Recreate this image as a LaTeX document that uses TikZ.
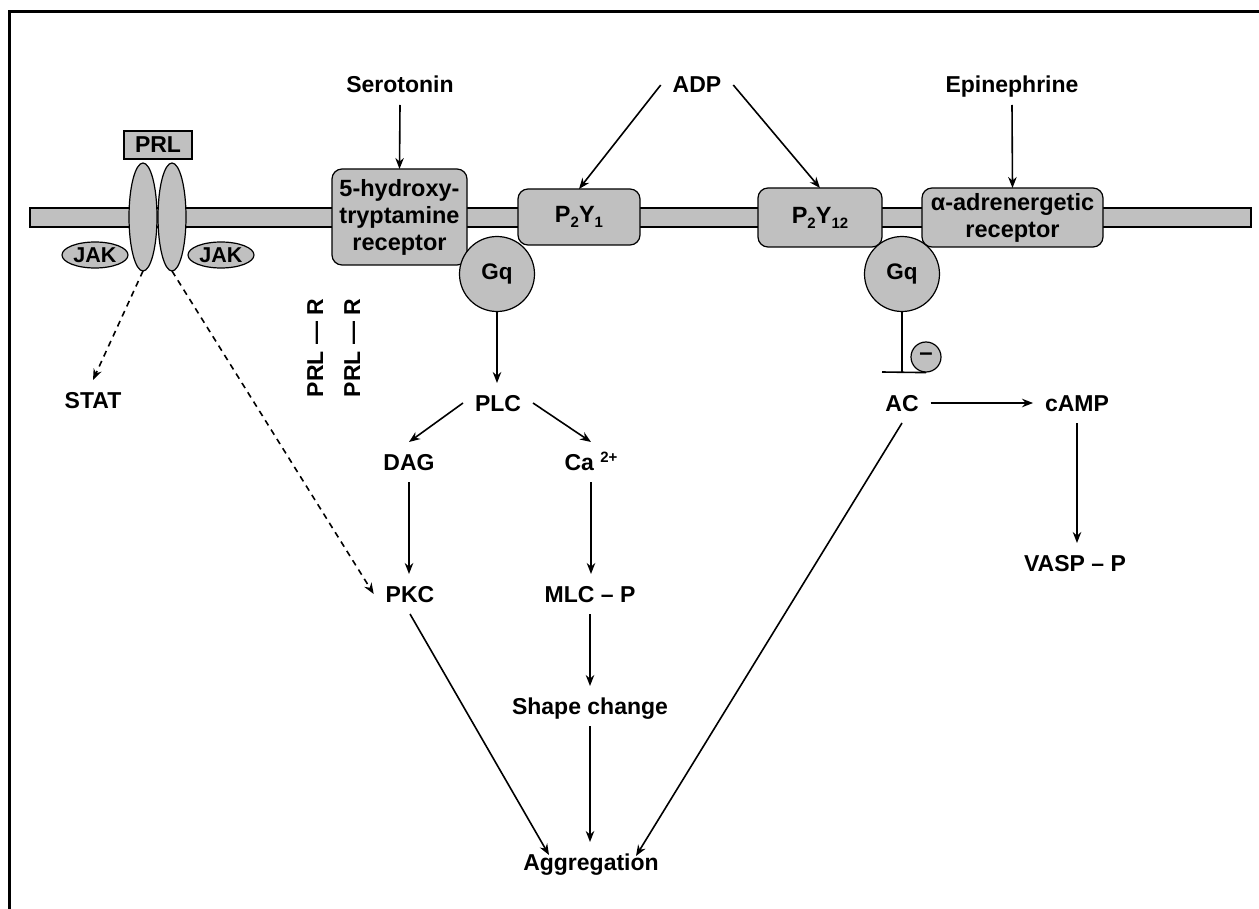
\documentclass[tikz,border=0pt]{standalone}
\usepackage{fontspec}
\setmainfont{Liberation Sans}
\usetikzlibrary{arrows.meta,shapes.geometric,calc}
\definecolor{memgray}{RGB}{192,192,192}
\newcommand\lowidx[1]{\raisebox{-5pt}{\fontsize{15}{15}\selectfont #1}}
\newcommand\highidx[1]{\raisebox{8pt}{\fontsize{15}{15}\selectfont #1}}
\begin{document}
\begin{tikzpicture}[x=1pt,y=-1pt,
  lbl/.style={font=\bfseries\fontsize{23}{27}\selectfont, inner sep=0pt, outer sep=12pt, text height=16pt, text depth=0pt},
  box/.style={draw=black, fill=memgray, line width=1.2pt, rounded corners=10pt, font=\bfseries\fontsize{23.5}{27}\selectfont, align=center, inner sep=0pt, outer sep=0pt},
  gq/.style={circle, draw=black, fill=memgray, minimum size=75pt, inner sep=0pt, line width=1.2pt, font=\bfseries\fontsize{22.5}{26}\selectfont},
  rcpt/.style={ellipse, draw=black, fill=memgray, line width=1.2pt, minimum width=28pt, minimum height=108pt, inner sep=0pt, outer sep=0pt},
  jak/.style={ellipse, draw=black, fill=memgray, line width=1.2pt, minimum width=66pt, minimum height=26pt, inner sep=0pt, font=\bfseries\fontsize{21.5}{24}\selectfont},
  arr/.style={-{Stealth[length=11pt,width=8.5pt]}, line width=1.6pt},
  darr/.style={arr, dashed, dash pattern=on 6pt off 5pt},
  inh/.style={line width=1.6pt}]
\useasboundingbox (0,0) rectangle (1259,909);
% frame
\draw[line width=3pt] (9,909) -- (9,12) -- (1259,12);
% membrane
\draw[fill=memgray, line width=1.2pt] (30,208) rectangle (1251,227);
% PRL receptor
\node[draw=black, fill=memgray, line width=1.2pt, minimum width=68pt, minimum height=28pt, inner sep=0pt, font=\bfseries\fontsize{23}{26}\selectfont] (prl) at (158,145) {PRL};
\node[rcpt] (e1) at (143,217) {};
\node[rcpt] (e2) at (172,217) {};
\node[jak] (jak1) at (95,255) {JAK};
\node[jak] (jak2) at (221,255) {JAK};
% receptors
\node[box, minimum width=135pt, minimum height=96pt] (ht) at (399.5,217) {5-hydroxy-\\tryptamine\\receptor};
\node[box, minimum width=122pt, minimum height=56pt] (p2y1) at (579,217) {P\lowidx{2}Y\lowidx{1}};
\node[box, minimum width=124pt, minimum height=59pt] (p2y12) at (820,217.5) {P\lowidx{2}Y\lowidx{12}};
\node[box, minimum width=181pt, minimum height=59pt] (alpha) at (1012.5,217.5) {α-adrenergetic\\receptor};
\node[gq] (gq1) at (497,274) {Gq};
\node[gq] (gq2) at (902,274) {Gq};
% ligands
\node[lbl] (ser) at (400,85) {Serotonin};
\node[lbl] (adp) at (697,85) {ADP};
\node[lbl] (epi) at (1012,85) {Epinephrine};
% labels
\node[lbl] (stat) at (93,400) {STAT};
\node[lbl, rotate=90] (prlr1) at (315,348) {PRL — R};
\node[lbl, rotate=90] (prlr2) at (352,348) {PRL — R};
\node[lbl] (plc) at (498,403) {PLC};
\node[lbl] (dag) at (409,462) {DAG};
\node[lbl] (ca) at (591,462) {Ca \highidx{2+}};
\node[lbl] (pkc) at (410,594) {PKC};
\node[lbl] (mlc) at (590,594) {MLC – P};
\node[lbl] (shape) at (590,706) {Shape change};
\node[lbl] (agg) at (591,862) {Aggregation};
\node[lbl] (ac) at (902,403) {AC};
\node[lbl] (camp) at (1077,403) {cAMP};
\node[lbl] (vasp) at (1075,563) {VASP – P};
\node[circle, draw=black, fill=memgray, line width=1.2pt, minimum size=30pt, inner sep=0pt, font=\bfseries\fontsize{24}{26}\selectfont] (minus) at (926,357) {–};
\coordinate (inhb) at (902,372);
\coordinate (aggL) at (549,855);
\coordinate (aggR) at (636,856);
% arrows
\draw[arr] (ser.south) -- (ht.north);
\draw[arr] (adp.west) -- (p2y1.north);
\draw[arr] (adp.east) -- (p2y12.north);
\draw[arr] (epi.south) -- (alpha.north);
\draw[darr] (e1.south) -- (stat.north);
\draw[darr] (e2.south) -- (pkc.west);
\draw[arr] (gq1.south) -- (gq1.south |- plc.north);
\draw[arr] (plc.west) -- (dag.north);
\draw[arr] (plc.east) -- (ca.north);
\draw[arr] (dag.south) -- (dag.south |- pkc.north);
\draw[arr] (ca.south) -- (ca.south |- mlc.north);
\draw[arr] (mlc.south) -- (mlc.south |- shape.north);
\draw[arr] (shape.south) -- (shape.south |- agg.north);
\draw[arr] (pkc.south) -- (aggL);
\draw[arr] (ac.south) -- (aggR);
\draw[arr] (ac.east) -- (camp.west);
\draw[arr] (camp.south) -- (camp.south |- vasp.north);
\draw[inh] (gq2.south) -- (inhb);
\draw[inh] ([xshift=-20pt]inhb) -- (minus.south);
\end{tikzpicture}
\end{document}
